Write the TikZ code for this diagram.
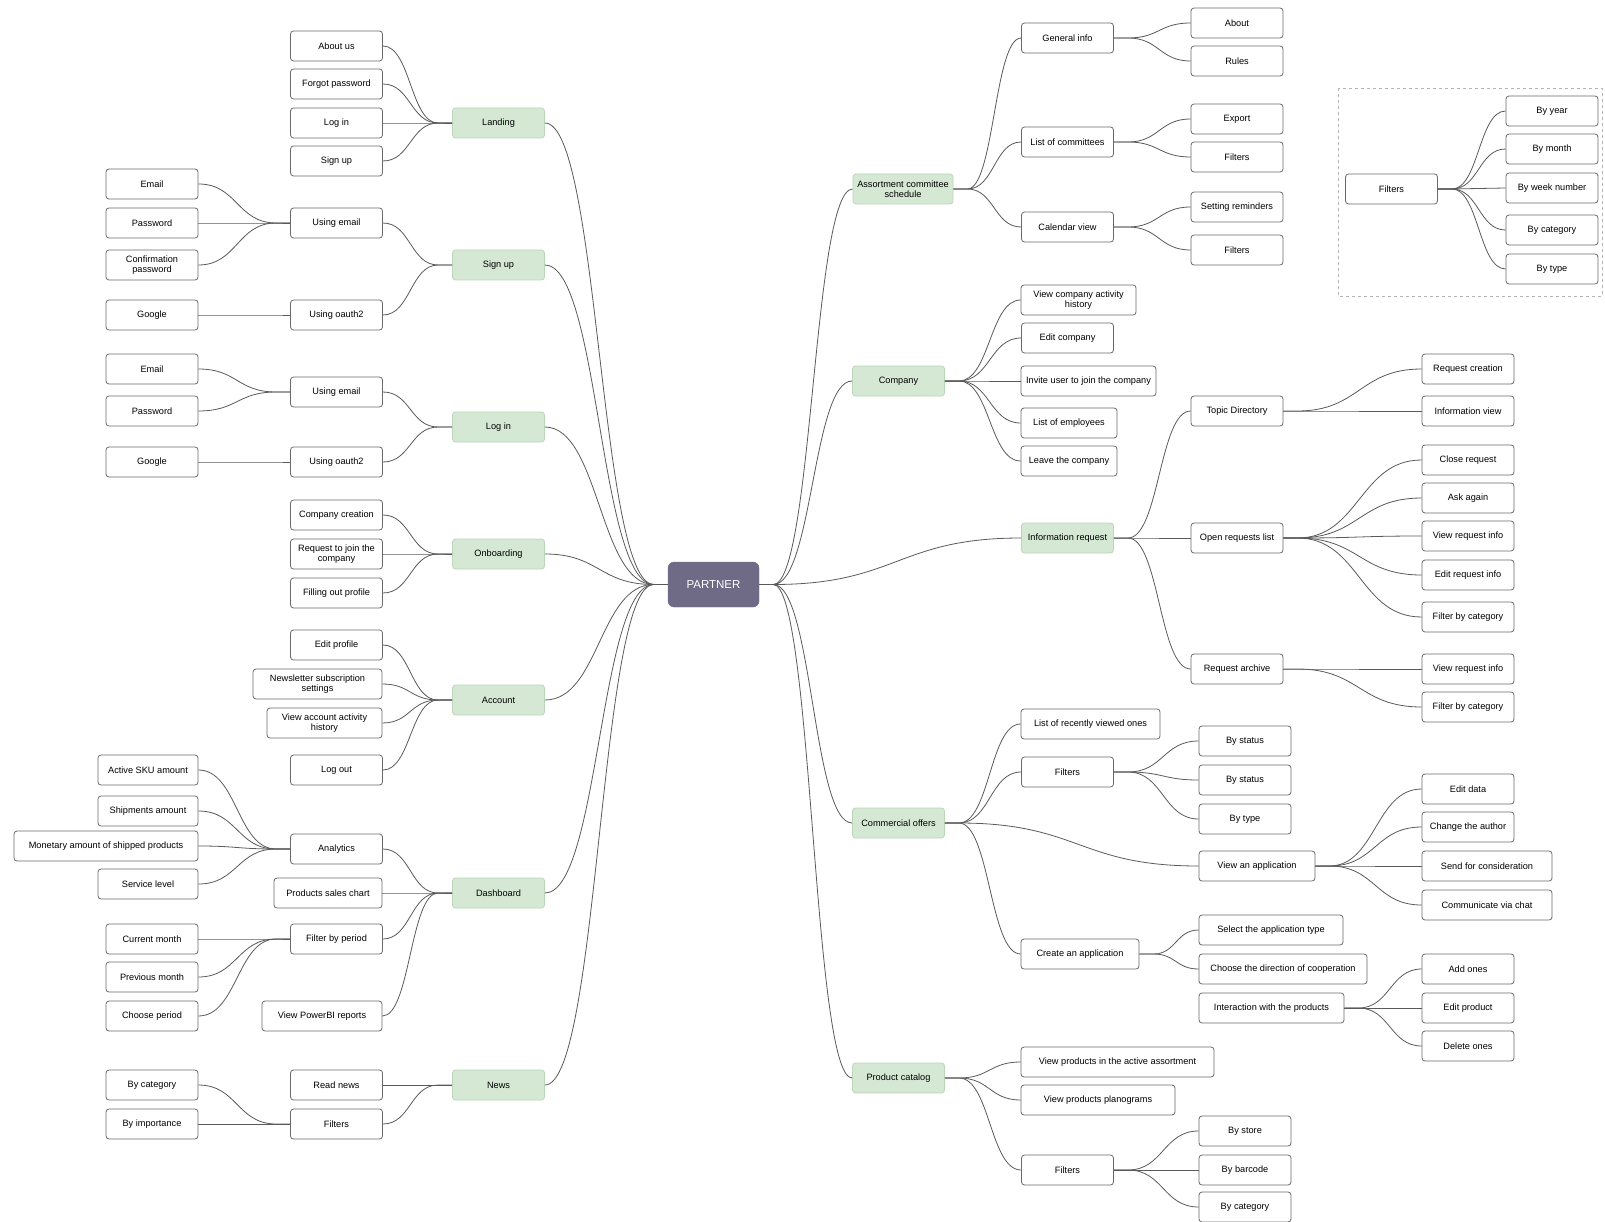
\documentclass[tikz,border=0pt]{standalone}
\usepackage{fontspec}
\setmainfont{Liberation Sans}
\usetikzlibrary{calc}
\definecolor{bordc}{HTML}{6A6A6A}
\definecolor{linec}{HTML}{5A5A5A}
\definecolor{grnf}{HTML}{D5E8D4}
\definecolor{grnd}{HTML}{BCD6B9}
\definecolor{partf}{HTML}{6F6A86}
\definecolor{dashc}{HTML}{B5B5B5}
\newcommand\fs{\fontsize{9.2}{10.4}\selectfont}
% left side: #1 parent (right), #2 child (left)
\newcommand\lk[2]{\draw[conn] let \p1=(#2.east), \p2=($(#1.west)+(-14,0)$) in (\p1) .. controls ({(\x1+\x2)/2},\y1) and ({(\x1+\x2)/2},\y2) .. (\p2) -- (#1.west);}
% right side: #1 parent (left), #2 child (right)
\newcommand\rk[2]{\draw[conn] let \p1=($(#1.east)+(14,0)$), \p2=(#2.west) in (#1.east) -- (\p1) .. controls ({(\x1+\x2)/2},\y1) and ({(\x1+\x2)/2},\y2) .. (\p2);}
\tikzset{
  box/.style={draw=bordc, fill=white, rounded corners=3pt, minimum width=92pt, minimum height=30pt, align=center, font=\fs, inner sep=2pt, line width=0.8pt},
  grn/.style={box, fill=grnf, draw=grnd},
  conn/.style={draw=linec, line width=0.8pt},
  center/.style={fill=partf, draw=partf, rounded corners=6pt, minimum width=91pt, minimum height=45pt, text=white, font=\fontsize{11.5}{12}\selectfont}
}
\begin{document}
\begin{tikzpicture}[x=1pt,y=-1pt]
\fill[white] (0,0) rectangle (1605,1222);
\useasboundingbox (0,0) rectangle (1605,1222);

% ---------- center ----------
\node[center] (P) at (713.5,584.5) {PARTNER};

% ---------- left side ----------
\node[grn] (land) at (498.5,123) {Landing};
\node[box] (la1) at (336.5,46) {About us};
\node[box] (la2) at (336.5,84) {Forgot password};
\node[box] (la3) at (336.5,123) {Log in};
\node[box] (la4) at (336.5,161) {Sign up};

\node[grn] (sgn) at (498.5,265) {Sign up};
\node[box] (sue) at (336.5,223) {Using email};
\node[box] (suo) at (336.5,315) {Using oauth2};
\node[box] (se1) at (152,184) {Email};
\node[box] (se2) at (152,223) {Password};
\node[box] (se3) at (152,265) {Confirmation\\password};
\node[box] (sg) at (152,315) {Google};

\node[grn] (lgn) at (498.5,427) {Log in};
\node[box] (lue) at (336.5,392) {Using email};
\node[box] (luo) at (336.5,462) {Using oauth2};
\node[box] (le1) at (152,369) {Email};
\node[box] (le2) at (152,411) {Password};
\node[box] (lg) at (152,462) {Google};

\node[grn] (onb) at (498.5,554) {Onboarding};
\node[box] (ob1) at (336.5,515) {Company creation};
\node[box] (ob2) at (336.5,554) {Request to join the\\company};
\node[box] (ob3) at (336.5,593) {Filling out profile};

\node[grn] (acc) at (498.5,700) {Account};
\node[box] (ac1) at (336.5,645) {Edit profile};
\node[box, minimum width=129pt] (ac2) at (317.5,684) {Newsletter subscription\\settings};
\node[box, minimum width=115pt] (ac3) at (324.5,723) {View account activity\\history};
\node[box] (ac4) at (336.5,770) {Log out};

\node[grn] (dash) at (498.5,893) {Dashboard};
\node[box] (da1) at (336.5,849) {Analytics};
\node[box, minimum width=108pt] (da2) at (328,893) {Products sales chart};
\node[box] (da3) at (336.5,939) {Filter by period};
\node[box, minimum width=120pt] (da4) at (322,1016) {View PowerBI reports};
\node[box, minimum width=100pt] (an1) at (148,770) {Active SKU amount};
\node[box, minimum width=100pt] (an2) at (148,811) {Shipments amount};
\node[box, minimum width=184pt] (an3) at (106,846) {Monetary amount of shipped products};
\node[box, minimum width=100pt] (an4) at (148,884) {Service level};
\node[box] (fp1) at (152,939) {Current month};
\node[box] (fp2) at (152,977) {Previous month};
\node[box] (fp3) at (152,1016) {Choose period};

\node[grn] (news) at (498.5,1085) {News};
\node[box] (nw1) at (336.5,1085) {Read news};
\node[box] (nw2) at (336.5,1124) {Filters};
\node[box] (nf1) at (152,1085) {By category};
\node[box] (nf2) at (152,1124) {By importance};

% ---------- right side ----------
\node[grn, minimum width=100pt] (asc) at (903,189) {Assortment committee\\schedule};
\node[box] (ag) at (1067.5,38) {General info};
\node[box] (agA) at (1237,23) {About};
\node[box] (agR) at (1237,61) {Rules};
\node[box] (al) at (1067.5,142) {List of committees};
\node[box] (alE) at (1237,119) {Export};
\node[box] (alF) at (1237,157) {Filters};
\node[box] (av) at (1067.5,227) {Calendar view};
\node[box] (avS) at (1237,207) {Setting reminders};
\node[box] (avF) at (1237,250) {Filters};

\node[grn] (cmp) at (898.5,381) {Company};
\node[box, minimum width=115pt] (cp1) at (1078.5,300) {View company activity\\history};
\node[box] (cp2) at (1067.5,338) {Edit company};
\node[box, minimum width=135pt] (cp3) at (1088.5,381) {Invite user to join the company};
\node[box, minimum width=96pt] (cp4) at (1069,423) {List of employees};
\node[box, minimum width=96pt] (cp5) at (1069,461) {Leave the company};

\node[grn] (ir) at (1067.5,538) {Information request};
\node[box] (it1) at (1237,411) {Topic Directory};
\node[box] (it2) at (1237,538) {Open requests list};
\node[box] (it3) at (1237,669) {Request archive};
\node[box] (tr1) at (1468,369) {Request creation};
\node[box] (tr2) at (1468,411) {Information view};
\node[box] (or1) at (1468,460) {Close request};
\node[box] (or2) at (1468,498) {Ask again};
\node[box] (or3) at (1468,536) {View request info};
\node[box] (or4) at (1468,575) {Edit request info};
\node[box] (or5) at (1468,617) {Filter by category};
\node[box] (ra1) at (1468,669) {View request info};
\node[box] (ra2) at (1468,707) {Filter by category};

\node[grn] (co) at (898.5,823) {Commercial offers};
\node[box, minimum width=139pt] (co1) at (1090.5,724) {List of recently viewed ones};
\node[box] (co2) at (1067.5,772) {Filters};
\node[box, minimum width=116pt] (co3) at (1257,866) {View an application};
\node[box, minimum width=118pt] (co4) at (1080,954) {Create an application};
\node[box] (cf1) at (1245,741) {By status};
\node[box] (cf2) at (1245,780) {By status};
\node[box] (cf3) at (1245,819) {By type};
\node[box] (va1) at (1468,789) {Edit data};
\node[box] (va2) at (1468,827) {Change the author};
\node[box, minimum width=130pt] (va3) at (1487,866) {Send for consideration};
\node[box, minimum width=130pt] (va4) at (1487,905) {Communicate via chat};
\node[box, minimum width=144pt] (cr1) at (1271,930) {Select the application type};
\node[box, minimum width=168pt] (cr2) at (1283,969) {Choose the direction of cooperation};
\node[box, minimum width=145pt] (cr3) at (1271.5,1008) {Interaction with the products};
\node[box] (ip1) at (1468,969) {Add ones};
\node[box] (ip2) at (1468,1008) {Edit product};
\node[box] (ip3) at (1468,1046) {Delete ones};

\node[grn] (pc) at (898.5,1078) {Product catalog};
\node[box, minimum width=193pt] (pc1) at (1117.5,1062) {View products in the active assortment};
\node[box, minimum width=154pt] (pc2) at (1098,1100) {View products planograms};
\node[box] (pc3) at (1067.5,1170) {Filters};
\node[box] (pf1) at (1245,1131) {By store};
\node[box] (pf2) at (1245,1170) {By barcode};
\node[box] (pf3) at (1245,1207) {By category};

% ---------- filter legend ----------
\draw[dashc, dashed, line width=0.8pt] (1338,88) rectangle (1602,296);
\node[box] (fl) at (1391.5,189) {Filters};
\node[box] (fl1) at (1552,111) {By year};
\node[box] (fl2) at (1552,149) {By month};
\node[box] (fl3) at (1552,188) {By week number};
\node[box] (fl4) at (1552,230) {By category};
\node[box] (fl5) at (1552,269) {By type};

% ---------- connectors: left ----------
\foreach \c in {land,sgn,lgn,onb,acc,dash,news} {\lk{P}{\c}}
\foreach \c in {la1,la2,la3,la4} {\lk{land}{\c}}
\lk{sgn}{sue} \lk{sgn}{suo}
\foreach \c in {se1,se2,se3} {\lk{sue}{\c}}
\lk{suo}{sg}
\lk{lgn}{lue} \lk{lgn}{luo}
\lk{lue}{le1} \lk{lue}{le2} \lk{luo}{lg}
\foreach \c in {ob1,ob2,ob3} {\lk{onb}{\c}}
\foreach \c in {ac1,ac2,ac3,ac4} {\lk{acc}{\c}}
\foreach \c in {da1,da2,da3,da4} {\lk{dash}{\c}}
\foreach \c in {an1,an2,an3,an4} {\lk{da1}{\c}}
\foreach \c in {fp1,fp2,fp3} {\lk{da3}{\c}}
\lk{news}{nw1} \lk{news}{nw2}
\lk{nw2}{nf1} \lk{nw2}{nf2}

% ---------- connectors: right ----------
\foreach \c in {asc,cmp,ir,co,pc} {\rk{P}{\c}}
\foreach \c in {ag,al,av} {\rk{asc}{\c}}
\rk{ag}{agA} \rk{ag}{agR}
\rk{al}{alE} \rk{al}{alF}
\rk{av}{avS} \rk{av}{avF}
\foreach \c in {cp1,cp2,cp3,cp4,cp5} {\rk{cmp}{\c}}
\foreach \c in {it1,it2,it3} {\rk{ir}{\c}}
\rk{it1}{tr1} \rk{it1}{tr2}
\foreach \c in {or1,or2,or3,or4,or5} {\rk{it2}{\c}}
\rk{it3}{ra1} \rk{it3}{ra2}
\foreach \c in {co1,co2,co3,co4} {\rk{co}{\c}}
\foreach \c in {cf1,cf2,cf3} {\rk{co2}{\c}}
\foreach \c in {va1,va2,va3,va4} {\rk{co3}{\c}}
\rk{co4}{cr1} \rk{co4}{cr2}
\foreach \c in {ip1,ip2,ip3} {\rk{cr3}{\c}}
\foreach \c in {pc1,pc2,pc3} {\rk{pc}{\c}}
\foreach \c in {pf1,pf2,pf3} {\rk{pc3}{\c}}
\foreach \c in {fl1,fl2,fl3,fl4,fl5} {\rk{fl}{\c}}
\end{tikzpicture}
\end{document}
